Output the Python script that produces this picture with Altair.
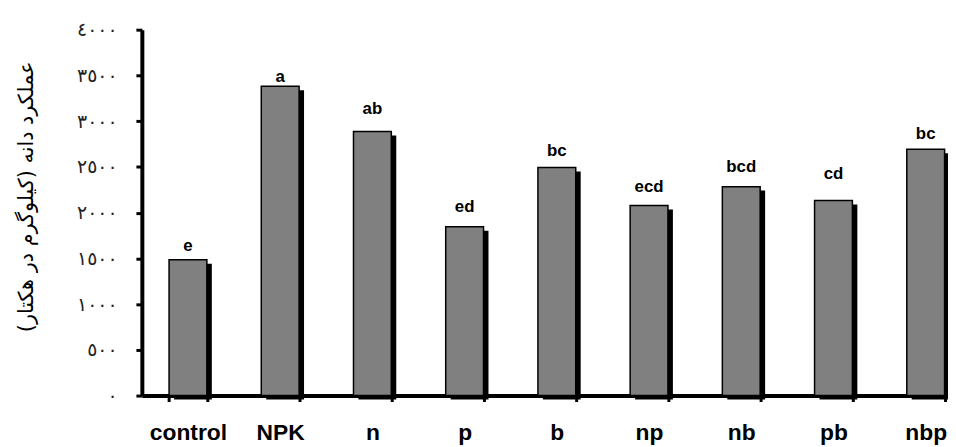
import altair as alt
import pandas as pd

categories = ["control", "NPK", "n", "p", "b", "np", "nb", "pb", "nbp"]
yields = [1485, 3382, 2887, 1846, 2493, 2078, 2284, 2132, 2693]
letters = ["e", "a", "ab", "ed", "bc", "ecd", "bcd", "cd", "bc"]
letter_heights = [1583, 3429, 3082, 2009, 2620, 2222, 2447, 2367, 2808]
y_ticks = [0, 500, 1000, 1500, 2000, 2500, 3000, 3500, 4000]
y_title = "عملکرد دانه (کیلوگرم در هکتار)"

df = pd.DataFrame({
    "treatment": categories,
    "yield": yields,
    "letter": letters,
    "lh": letter_heights,
})

digit_expr = "datum.label"
for d, a in zip("0123456789", "٠١٢٣٤٥٦٧٨٩"):
    digit_expr = f"replace({digit_expr}, regexp('{d}', 'g'), '{a}')"

x_scale = alt.Scale(domain=categories, range=[0, 837], paddingInner=0.59, paddingOuter=0.295)

x_enc = alt.X(
    "treatment:N",
    scale=x_scale,
    sort=categories,
    axis=alt.Axis(
        title=None,
        labelAngle=0,
        labelFont="Liberation Sans",
        labelFontWeight="bold",
        labelFontSize=23,
        labelColor="#000000",
        labelBaseline="alphabetic",
        labelPadding=38,
        labelOverlap=False,
        tickBand="extent",
        tickSize=6,
        tickWidth=3,
        tickColor="#000000",
        domainColor="#000000",
        domainWidth=4,
        grid=False,
    ),
)

y_scale = alt.Scale(domain=[0, 4000], nice=False)

shadow = alt.Chart(df).mark_bar(color="#000000", xOffset=5, yOffset=4).encode(
    x=x_enc,
    y=alt.Y(
        "yield:Q",
        scale=y_scale,
        axis=alt.Axis(
            values=y_ticks,
            format="d",
            title=y_title,
            titleFont="DejaVu Sans",
            titleFontSize=21,
            titleFontWeight="normal",
            titleColor="#000000",
            titleX=-116,
            titleY=168,
            titleAngle=270,
            titleBaseline="middle",
            titleAlign="center",
            labelExpr=digit_expr,
            labelFont="DejaVu Sans",
            labelFontSize=19,
            labelColor="#222222",
            labelPadding=19,
            tickSize=6,
            tickWidth=3,
            tickColor="#000000",
            domainColor="#000000",
            domainWidth=4,
            grid=False,
        ),
    ),
)

bars = alt.Chart(df).mark_bar(color="#808080", stroke="#000000", strokeWidth=1.5).encode(
    x=alt.X("treatment:N", scale=x_scale, sort=categories),
    y=alt.Y("yield:Q", scale=y_scale),
)

text = alt.Chart(df).mark_text(
    font="Liberation Sans",
    fontWeight="bold",
    fontSize=17,
    color="#000000",
    baseline="alphabetic",
    align="center",
).encode(
    x=alt.X("treatment:N", scale=x_scale, sort=categories),
    y=alt.Y("lh:Q", scale=y_scale),
    text="letter:N",
)

chart = alt.layer(shadow, bars, text).properties(
    width=813,
    height=369,
    autosize=alt.AutoSizeParams(type="none"),
    padding={"left": 135, "top": 20, "right": 0, "bottom": 50},
    background="#ffffff",
).configure_view(stroke=None)

chart.save("out.html", embed_options={"renderer": "svg", "actions": False})
